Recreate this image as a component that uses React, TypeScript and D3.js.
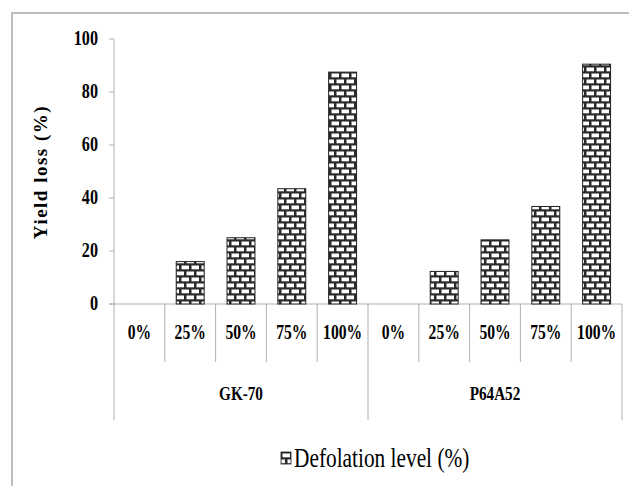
import React, { useEffect, useRef } from "react";
import * as d3 from "d3";

const groups = ["GK-70", "P64A52"];
const levels = ["0%", "25%", "50%", "75%", "100%"];
const gk70Loss = [0, 16, 25, 43.5, 87.5];
const p64a52Loss = [0, 12.3, 24.2, 36.8, 90.5];
const yTicks = [0, 20, 40, 60, 80, 100];

const App: React.FC = () => {
  const svgRef = useRef<SVGSVGElement>(null);

  useEffect(() => {
    document.body.style.margin = "0";
    if (!svgRef.current) return;
    const width = 629;
    const height = 486;
    const margin = { top: 39, right: 7, bottom: 182, left: 114 };
    const gray = "#b0b0b0";

    const svg = d3.select(svgRef.current).html("").attr("viewBox", `0 0 ${width} ${height}`);

    // brick pattern
    const defs = svg.append("defs");
    const pat = defs
      .append("pattern")
      .attr("id", "brick")
      .attr("patternUnits", "userSpaceOnUse")
      .attr("width", 10)
      .attr("height", 12);
    pat.append("rect").attr("width", 10).attr("height", 12).attr("fill", "#2a2a2a");
    pat.append("rect").attr("x", 1.5).attr("y", 1.5).attr("width", 7.5).attr("height", 3.8).attr("fill", "#fff");
    pat.append("rect").attr("x", -3.5).attr("y", 7.5).attr("width", 7.5).attr("height", 3.8).attr("fill", "#fff");
    pat.append("rect").attr("x", 6.5).attr("y", 7.5).attr("width", 7.5).attr("height", 3.8).attr("fill", "#fff");

    // chart frame
    svg
      .append("path")
      .attr("d", `M12,${height} V13 H${width}`)
      .attr("fill", "none")
      .attr("stroke", "#bdbdbd")
      .attr("stroke-width", 2);

    const rows = groups.flatMap((g, gi) =>
      levels.map((l, li) => ({
        group: g,
        level: l,
        value: gi === 0 ? gk70Loss[li] : p64a52Loss[li],
        key: `${g}-${l}`,
      }))
    );

    const plotBottom = height - margin.bottom; // 304
    const x = d3
      .scaleBand()
      .domain(rows.map((d) => d.key))
      .range([margin.left, width - margin.right]);

    const y = d3.scaleLinear().domain([0, 100]).range([plotBottom, margin.top]);

    // y axis
    svg
      .append("line")
      .attr("x1", margin.left)
      .attr("x2", margin.left)
      .attr("y1", y(100))
      .attr("y2", y(0))
      .attr("stroke", gray);
    const yt = svg.append("g");
    yTicks.forEach((t) => {
      yt.append("line")
        .attr("x1", margin.left - 5)
        .attr("x2", margin.left)
        .attr("y1", y(t))
        .attr("y2", y(t))
        .attr("stroke", gray);
      yt.append("text")
        .attr("class", "serif")
        .attr("transform", `translate(98,${y(t) + 6}) scale(0.95,1.2)`)
        .attr("text-anchor", "end")
        .attr("font-weight", "bold")
        .attr("font-size", 17)
        .text(t);
    });

    // y title
    svg
      .append("text")
      .attr("class", "serif")
      .attr("transform", `translate(47,${172}) rotate(-90)`)
      .attr("text-anchor", "middle")
      .attr("font-weight", "bold")
      .attr("font-size", 19)
      .attr("letter-spacing", 1.5)
      .text("Yield loss  (%)");

    // x axis line
    svg
      .append("line")
      .attr("x1", margin.left - 5)
      .attr("x2", width - margin.right)
      .attr("y1", plotBottom)
      .attr("y2", plotBottom)
      .attr("stroke", gray);

    // bars
    const bw = x.bandwidth() * 0.55;
    svg
      .append("g")
      .selectAll("rect")
      .data(rows)
      .join("rect")
      .attr("x", (d) => (x(d.key) ?? 0) + (x.bandwidth() - bw) / 2)
      .attr("width", bw)
      .attr("y", (d) => y(d.value))
      .attr("height", (d) => y(0) - y(d.value))
      .attr("fill", "url(#brick)")
      .attr("stroke", (d) => (d.value > 0 ? "#222" : "none"))
      .attr("stroke-width", 1);

    // category dividers and labels
    const cat = svg.append("g");
    rows.forEach((d, i) => {
      const x0 = x(d.key) ?? 0;
      const isGroupStart = i % levels.length === 0;
      cat
        .append("line")
        .attr("x1", x0)
        .attr("x2", x0)
        .attr("y1", plotBottom)
        .attr("y2", isGroupStart ? 420 : 362)
        .attr("stroke", gray);
      cat
        .append("text")
        .attr("class", "serif")
        .attr("transform", `translate(${x0 + x.bandwidth() / 2},${339}) scale(0.92,1.2)`)
        .attr("text-anchor", "middle")
        .attr("font-weight", "bold")
        .attr("font-size", 17)
        .text(d.level);
    });
    cat
      .append("line")
      .attr("x1", width - margin.right)
      .attr("x2", width - margin.right)
      .attr("y1", plotBottom)
      .attr("y2", 420)
      .attr("stroke", gray);

    // group labels
    groups.forEach((g) => {
      const first = x(`${g}-${levels[0]}`) ?? 0;
      const last = (x(`${g}-${levels[levels.length - 1]}`) ?? 0) + x.bandwidth();
      svg
        .append("text")
        .attr("class", "serif")
        .attr("transform", `translate(${(first + last) / 2},${400}) scale(0.95,1.15)`)
        .attr("text-anchor", "middle")
        .attr("font-weight", "bold")
        .attr("font-size", 16)
        .text(g);
    });

    // legend
    const lg = svg.append("g").attr("transform", "translate(281,452)");
    lg.append("rect")
      .attr("width", 10)
      .attr("height", 12)
      .attr("fill", "url(#brick)")
      .attr("stroke", "#222")
      .attr("stroke-width", 0.8);
    lg.append("text")
      .attr("class", "serif")
      .attr("transform", "translate(13,15) scale(0.97,1.2)")
      .attr("font-size", 22)
      .text("Defolation level (%)");
  }, []);

  return (
    <>
      <style>{`.serif { font-family: "Liberation Serif", "DejaVu Serif", serif; }`}</style>
      <svg ref={svgRef} width={629} height={486} style={{ display: "block", background: "#fff" }} />
    </>
  );
};

export default App;
